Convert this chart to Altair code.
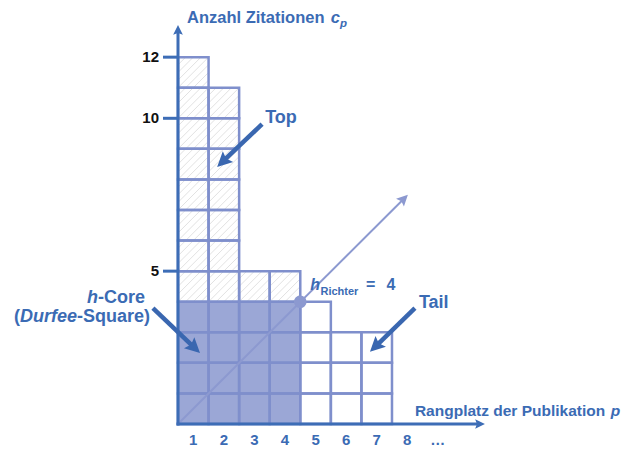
import math
import altair as alt
import pandas as pd

# ---------------- data ----------------
ranks = [1, 2, 3, 4, 5, 6, 7]
citations = [12, 11, 5, 5, 4, 3, 3]
h_index = 4
x_tick_labels = ["1", "2", "3", "4", "5", "6", "7", "8", "…"]
y_ticks = [5, 10, 12]

# ---------------- layout helpers ----------------
UNIT = 30.57          # pixels per data unit (same in x and y)
X0, Y0 = 178, 424     # page pixel of the origin
W, H = 613, 440
FONT = "Liberation Sans"

BLUE = "#3B6BB4"
AXIS = "#3D6DB6"
CELL = "#7F8FCC"
CORE = "#9BA7D6"
DIAG = "#8C99D0"
HATCH = "#E2E2E2"
ARROW = "#3A67B0"


def dx(px):
    return (px - X0) / UNIT


def dy(py):
    return (Y0 - py) / UNIT


xs = alt.Scale(domain=[dx(8), dx(8 + W)], nice=False, zero=False)
ys = alt.Scale(domain=[dy(8 + H), dy(8)], nice=False, zero=False)


def X(f):
    return alt.X(f, type="quantitative", scale=xs, axis=None)


def Y(f):
    return alt.Y(f, type="quantitative", scale=ys, axis=None)


# ---------------- cells ----------------
cells = []
for p, c in zip(ranks, citations):
    for k in range(1, c + 1):
        if p <= h_index and k <= h_index:
            region = "core"
        elif k > h_index:
            region = "top"
        else:
            region = "tail"
        cells.append(dict(x0=p - 1, x1=p, y0=k - 1, y1=k, region=region))
cells_df = pd.DataFrame(cells)

fills = alt.Chart(cells_df).mark_rect(strokeWidth=0).encode(
    x=X("x0"), x2=alt.X2("x1"), y=Y("y0"), y2=alt.Y2("y1"),
    fill=alt.Fill("region:N", scale=alt.Scale(domain=["core", "top", "tail"],
                                              range=[CORE, "#FFFFFF", "#FFFFFF"]),
                  legend=None),
)

# hatch for the "top" cells
hatch = []
offsets = [-0.75, -0.5, -0.25, 0.0, 0.25, 0.5, 0.75]
for r in cells:
    if r["region"] != "top":
        continue
    a, b = r["x0"], r["y0"]
    for d in offsets:
        t0 = max(0.0, -d)
        t1 = min(1.0, 1.0 - d)
        hatch.append(dict(xa=a + t0, ya=b + t0 + d, xb=a + t1, yb=b + t1 + d))
hatch_df = pd.DataFrame(hatch)
hatch_layer = alt.Chart(hatch_df).mark_rule(color=HATCH, strokeWidth=1).encode(
    x=X("xa"), y=Y("ya"), x2=alt.X2("xb"), y2=alt.Y2("yb"))

strokes = alt.Chart(cells_df).mark_rect(fillOpacity=0, stroke=CELL, strokeWidth=2.5).encode(
    x=X("x0"), x2=alt.X2("x1"), y=Y("y0"), y2=alt.Y2("y1"))

# ---------------- arrows ----------------
HEAD = "M0,0 L-0.5,1 L0,0.82 L0.5,1 Z"


def arrow(start, tip, color, width, head_size, back_px, head_shape=HEAD):
    ddx, ddy = tip[0] - start[0], tip[1] - start[1]
    L = math.hypot(ddx, ddy)
    ux, uy = ddx / L, ddy / L
    end = (tip[0] - ux * back_px / UNIT, tip[1] - uy * back_px / UNIT)
    ang = math.degrees(math.atan2(ddx, ddy)) % 360
    shaft = alt.Chart(pd.DataFrame({"xa": [start[0]], "ya": [start[1]],
                                    "xb": [end[0]], "yb": [end[1]]})).mark_rule(
        color=color, strokeWidth=width, strokeCap="butt").encode(
        x=X("xa"), y=Y("ya"), x2=alt.X2("xb"), y2=alt.Y2("yb"))
    head = alt.Chart(pd.DataFrame({"x": [tip[0]], "y": [tip[1]], "a": [ang]})).mark_point(
        shape=head_shape, filled=True, color=color, size=head_size, opacity=1).encode(
        x=X("x"), y=Y("y"), angle=alt.Angle("a:Q", scale=None))
    return [shaft, head]


layers = [fills, hatch_layer, strokes]

# diagonal h-line
layers += arrow((0, 0), (7.52, 7.5), DIAG, 2, 500, 6)

# h point
layers.append(alt.Chart(pd.DataFrame({"x": [h_index], "y": [h_index]})).mark_point(
    shape="circle", filled=True, color=DIAG, size=160, opacity=1).encode(x=X("x"), y=Y("y")))

# axes
layers += arrow((0, -1.5 / UNIT), (0, 13.05), AXIS, 3, 380, 6)
layers += arrow((-1.5 / UNIT, 0), (10.04, 0), AXIS, 3, 380, 6)

# y ticks
tick_df = pd.DataFrame({"v": y_ticks, "xa": [-0.49] * len(y_ticks), "xb": [0] * len(y_ticks)})
layers.append(alt.Chart(tick_df).mark_rule(color=AXIS, strokeWidth=3).encode(
    x=X("xa"), x2=alt.X2("xb"), y=Y("v")))

ylab_df = pd.DataFrame({"t": [str(v) for v in y_ticks], "x": [-0.62] * len(y_ticks),
                        "y": [v - 4.7 / UNIT for v in y_ticks]})
layers.append(alt.Chart(ylab_df).mark_text(align="right", baseline="alphabetic", font=FONT,
                                           fontSize=15, fontWeight="bold", color="#111111").encode(
    x=X("x"), y=Y("y"), text="t:N"))

xlab_df = pd.DataFrame({"t": x_tick_labels, "x": [i + 0.5 for i in range(len(x_tick_labels))],
                        "y": [dy(447.5)] * len(x_tick_labels)})
layers.append(alt.Chart(xlab_df).mark_text(align="center", baseline="bottom", font=FONT,
                                           fontSize=15, fontWeight="bold", color=BLUE).encode(
    x=X("x"), y=Y("y"), text="t:N"))


def txt(s, x, y, size, align="left", italic=False, color=BLUE):
    return alt.Chart(pd.DataFrame({"t": [s], "x": [x], "y": [y]})).mark_text(
        align=align, baseline="alphabetic", font=FONT, fontSize=size, fontWeight="bold",
        fontStyle="italic" if italic else "normal", color=color).encode(
        x=X("x"), y=Y("y"), text="t:N")


# axis titles
layers.append(txt("Anzahl Zitationen", 0.294, 13.13, 16.5))
layers.append(txt("c", 5.0, 13.13, 16.5, italic=True))
layers.append(txt("p", 5.3, 13.0, 11.5, italic=True))
layers.append(txt("Rangplatz der Publikation", 7.75, 0.27, 15.5))
layers.append(txt("p", 14.16, 0.27, 15.5, italic=True))

# h_Richter = 4
layers.append(txt("h", 4.33, 4.38, 16, italic=True))
layers.append(txt("Richter", 4.66, 4.22, 11))
layers.append(txt("=", 6.30, 4.38, 16, align="center"))
layers.append(txt(str(h_index), 6.97, 4.38, 16, align="center"))

# annotations
layers.append(txt("Top", 3.37, 9.85, 18, align="center"))
layers.append(txt("Tail", 7.88, 3.79, 18))
layers.append(txt("-Core", -1.08, 3.97, 18, align="right"))
layers.append(txt("h", -2.62, 3.97, 18, align="right", italic=True))
layers.append(txt("-Square)", -0.916, 3.35, 18, align="right"))
layers.append(txt("Durfee", -3.30, 3.35, 18, align="right", italic=True))
layers.append(txt("(", -5.17, 3.35, 18, align="right"))

layers += arrow((2.75, 9.81), (1.28, 8.41), ARROW, 4.5, 900, 9)
layers += arrow((7.75, 3.79), (6.28, 2.36), ARROW, 4.5, 900, 9)
layers += arrow((-0.82, 3.79), (0.72, 2.32), ARROW, 4.5, 900, 9)

chart = alt.layer(*layers).properties(
    width=W, height=H, padding=0, autosize="none"
).configure_view(strokeWidth=0)

chart.save("out.html", embed_options={"renderer": "svg", "actions": False})
